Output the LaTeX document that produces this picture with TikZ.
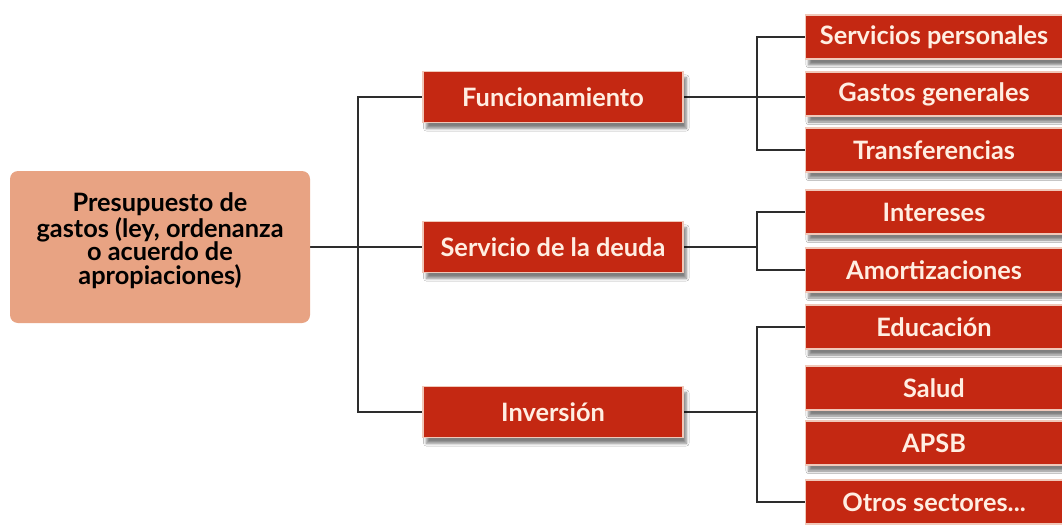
\documentclass[tikz,border=0pt]{standalone}
\usepackage{fontspec}
\setmainfont{Lato}
\usetikzlibrary{shadows.blur,backgrounds}
\definecolor{boxred}{RGB}{196,40,18}
\definecolor{boxedge}{RGB}{240,200,185}
\definecolor{salmon}{RGB}{232,163,131}
\definecolor{cream}{RGB}{255,238,226}
\definecolor{linegray}{RGB}{45,45,45}
\begin{document}
\begin{tikzpicture}[x=0.75pt,y=-0.75pt,
  redbox/.style={rectangle,fill=boxred,draw=boxedge,line width=0.8pt,
    text=cream,font=\bfseries\fontsize{19}{22}\selectfont,inner sep=0pt,
    blur shadow={shadow xshift=2.5pt,shadow yshift=-4.5pt,shadow blur steps=6,shadow opacity=50}},
  midbox/.style={redbox,minimum width=195pt,minimum height=38pt},
  leafbox/.style={redbox,minimum width=193pt,minimum height=33pt},
  rootbox/.style={rectangle,rounded corners=6pt,fill=salmon,draw=none,
    minimum width=225pt,minimum height=114pt,align=center,text=black,
    font=\bfseries\fontsize{19}{17.6}\selectfont},
  conn/.style={draw=linegray,line width=1.3pt}]
\useasboundingbox (0,0) rectangle (1062,524);

\node[rootbox] (root) at (160,247) {Presupuesto de\\gastos (ley, ordenanza\\o acuerdo de\\apropiaciones)\\[-5pt]\mbox{}};

\node[midbox] (f) at (553,97) {Funcionamiento};
\node[midbox] (sd) at (553,247) {Servicio de la deuda};
\node[midbox] (inv) at (553,412) {Inversión};

\node[leafbox] (sp) at (934,37) {Servicios personales};
\node[leafbox] (gg) at (934,94) {Gastos generales};
\node[leafbox] (tr) at (934,150) {Transferencias};
\node[leafbox] (in) at (934,212) {Intereses};
\node[leafbox] (am) at (934,270) {Amortizaciones};
\node[leafbox] (ed) at (934,327) {Educación};
\node[leafbox] (sa) at (934,388) {Salud};
\node[leafbox] (ap) at (934,443) {APSB};
\node[leafbox] (ot) at (934,502) {Otros sectores...};

\coordinate (j1) at (358,0);
\coordinate (j2) at (757,0);

\begin{pgfonlayer}{background}
\fill[white] (0,0) rectangle (1062,524);
\draw[conn] (root.east) -- (sd.west);
\draw[conn] (f.west) -- (f.west -| j1) -- (inv.west -| j1) -- (inv.west);

\draw[conn] (f.east) -- (f.east -| gg.west);
\draw[conn] (sp.west) -- (sp.west -| j2) -- (tr.west -| j2) -- (tr.west);

\draw[conn] (sd.east) -- (sd.east -| j2);
\draw[conn] (in.west) -- (in.west -| j2) -- (am.west -| j2) -- (am.west);

\draw[conn] (inv.east) -- (inv.east -| j2);
\draw[conn] (ed.west) -- (ed.west -| j2) -- (ot.west -| j2) -- (ot.west);
\end{pgfonlayer}
\end{tikzpicture}
\end{document}
